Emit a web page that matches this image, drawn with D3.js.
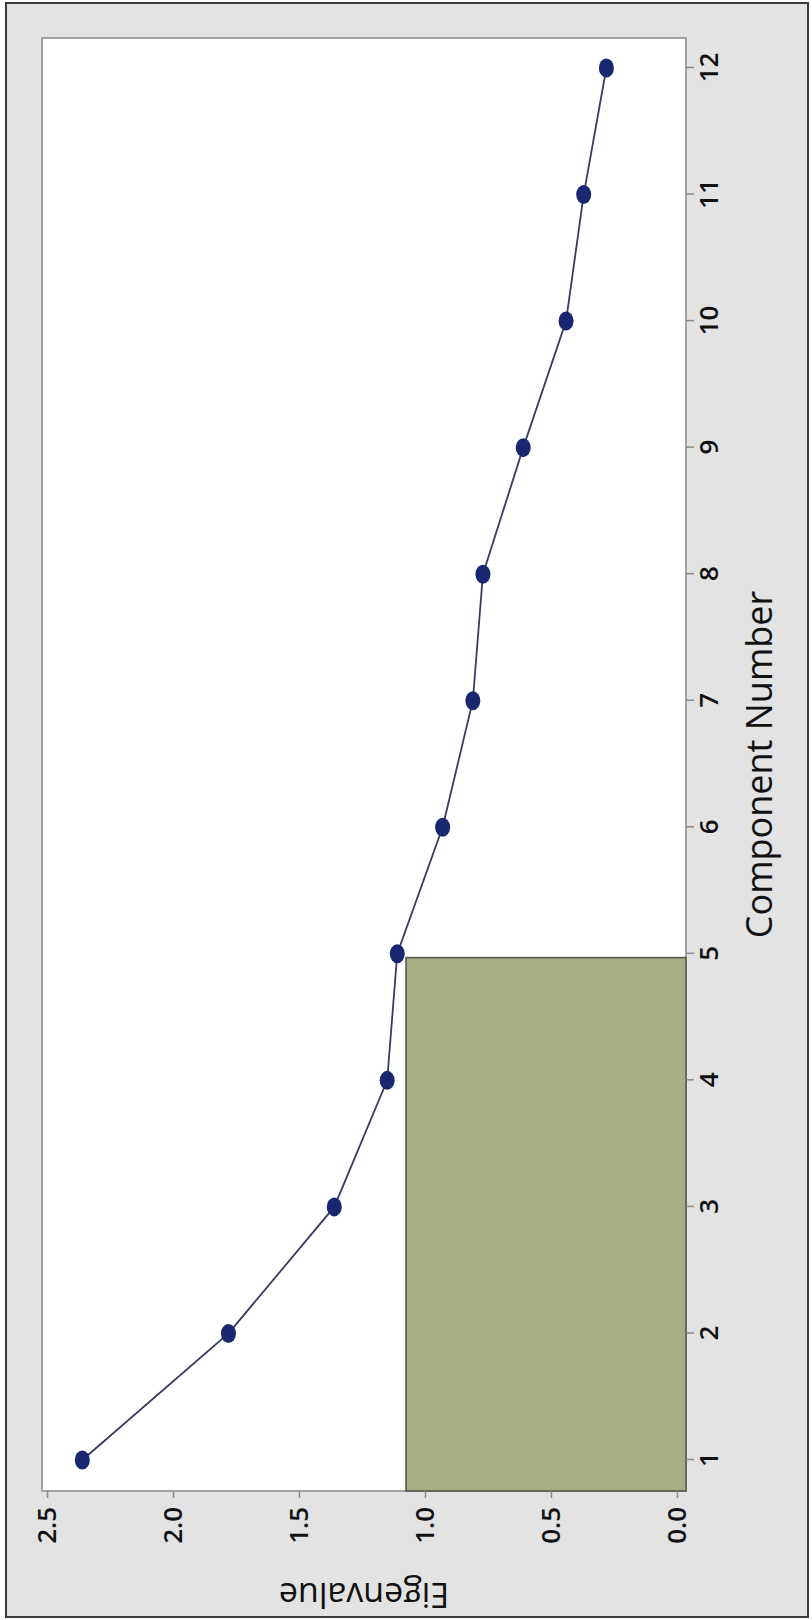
<!DOCTYPE html>
<html>
<head>
<meta charset="utf-8">
<script src="https://cdn.jsdelivr.net/npm/d3@7"></script>
<style>
  html, body { margin: 0; padding: 0; background: #ffffff; }
  svg { display: block; }
  .axis text { font-family: "Open Sans", "Noto Sans", sans-serif; fill: #111111; }
</style>
</head>
<body>
<script>
// Scree plot values
const components = [1, 2, 3, 4, 5, 6, 7, 8, 9, 10, 11, 12];
const eigenvalues = [2.36, 1.78, 1.36, 1.15, 1.11, 0.93, 0.81, 0.77, 0.61, 0.44, 0.37, 0.28];
const componentTicks = [1, 2, 3, 4, 5, 6, 7, 8, 9, 10, 11, 12];
const eigenTicks = [0.0, 0.5, 1.0, 1.5, 2.0, 2.5];
// Shaded block: components kept and the eigenvalue level it reaches
const shadeComponentMax = 4.97;
const shadeEigenMax = 1.075;

const W = 812, H = 1620;

// The chart is laid out landscape (H wide, W tall) and then turned
// a quarter-turn counter-clockwise onto the portrait page.
const plot = { left: 129, right: 1582, top: 42, bottom: 686 };

const x = d3.scaleLinear().domain([0.755, 12.237]).range([plot.left, plot.right]);
const y = d3.scaleLinear().domain([-0.036, 2.52]).range([plot.bottom, plot.top]);

const svg = d3.select("body").append("svg")
  .attr("width", W).attr("height", H);

// page frame
svg.append("rect")
  .attr("x", 6).attr("y", 3).attr("width", 802).attr("height", 1614)
  .attr("fill", "#e3e3e3").attr("stroke", "#3a3a3a").attr("stroke-width", 2);

const g = svg.append("g").attr("transform", `translate(0,${H}) rotate(-90)`);

// plot area
g.append("rect")
  .attr("x", plot.left).attr("y", plot.top)
  .attr("width", plot.right - plot.left).attr("height", plot.bottom - plot.top)
  .attr("fill", "#ffffff").attr("stroke", "#a3a3a3").attr("stroke-width", 2);

// shaded block
g.append("rect")
  .attr("x", plot.left)
  .attr("y", y(shadeEigenMax))
  .attr("width", x(shadeComponentMax) - plot.left)
  .attr("height", plot.bottom - y(shadeEigenMax))
  .attr("fill", "#a8ad82").attr("stroke", "#55584c").attr("stroke-width", 1.6);

// component axis
const xAxis = g.append("g").attr("class", "axis")
  .attr("transform", `translate(0,${plot.bottom})`)
  .call(d3.axisBottom(x).tickValues(componentTicks).tickFormat(d3.format("d"))
    .tickSize(8).tickPadding(5.5));
xAxis.select(".domain").remove();
xAxis.selectAll(".tick line").attr("stroke", "#8a8a8a").attr("stroke-width", 1.5);
xAxis.selectAll(".tick text").attr("font-size", 26).attr("font-weight", 600);

// eigenvalue axis
const yAxis = g.append("g").attr("class", "axis")
  .attr("transform", `translate(${plot.left},0)`)
  .call(d3.axisLeft(y).tickValues(eigenTicks).tickFormat(d3.format(".1f"))
    .tickSize(7).tickPadding(9));
yAxis.select(".domain").remove();
yAxis.selectAll(".tick line").attr("stroke", "#8a8a8a").attr("stroke-width", 1.5);
yAxis.selectAll(".tick text").attr("font-size", 26).attr("font-weight", 600);

// axis titles
g.append("text")
  .attr("x", (plot.left + plot.right) / 2).attr("y", 772)
  .attr("text-anchor", "middle")
  .attr("font-family", "'Open Sans', 'Noto Sans', sans-serif")
  .attr("font-size", 36).attr("font-weight", 500).attr("fill", "#111111")
  .text("Component Number");

g.append("text")
  .attr("transform", `translate(37,${(plot.top + plot.bottom) / 2}) rotate(-90)`)
  .attr("text-anchor", "middle")
  .attr("font-family", "'Open Sans', 'Noto Sans', sans-serif")
  .attr("font-size", 34).attr("font-weight", 500).attr("fill", "#111111")
  .text("Eigenvalue");

// connecting line and markers
const pts = d3.zip(components, eigenvalues);
g.append("path")
  .datum(pts)
  .attr("fill", "none").attr("stroke", "#383c62").attr("stroke-width", 1.8)
  .attr("d", d3.line().x(d => x(d[0])).y(d => y(d[1])));

g.selectAll("ellipse.pt").data(pts).join("ellipse")
  .attr("class", "pt")
  .attr("cx", d => x(d[0])).attr("cy", d => y(d[1]))
  .attr("rx", 9.5).attr("ry", 7.5)
  .attr("fill", "#18276f");
</script>
</body>
</html>
